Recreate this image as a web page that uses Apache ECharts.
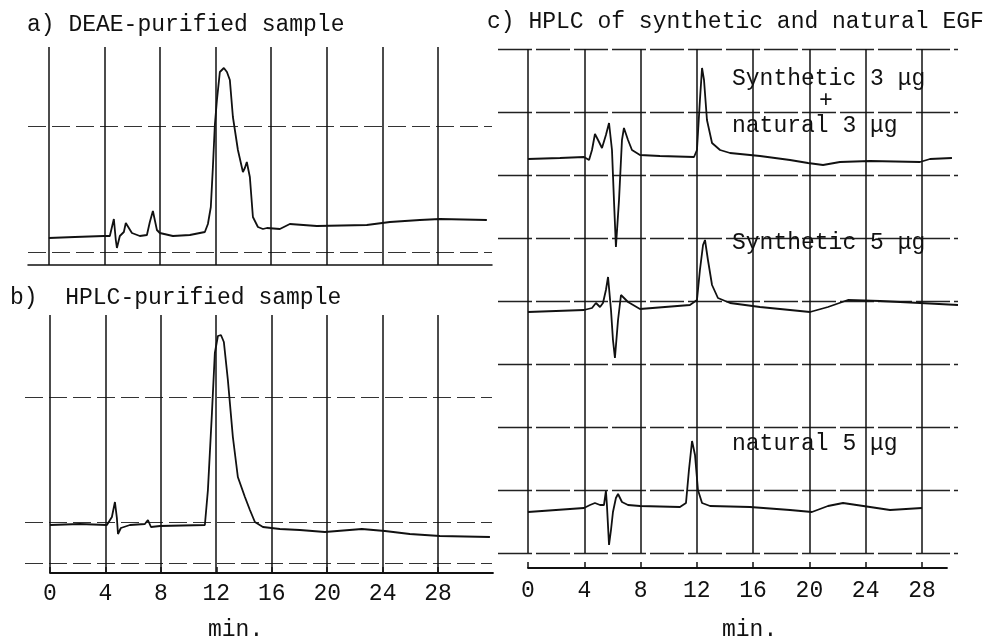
<!DOCTYPE html>
<html>
<head>
<meta charset="utf-8">
<script src="https://cdn.jsdelivr.net/npm/echarts@6/dist/echarts.min.js"></script>
<style>html,body{margin:0;background:#fff}#main{width:995px;height:638px}</style>
</head>
<body>
<div id="main"></div>
<script>
let minuteTicks = [0, 4, 8, 12, 16, 20, 24, 28];

// a) DEAE-purified sample
let deaeTime = [0, 1.87, 3.96, 4.39, 4.68, 4.82, 4.9, 5.11, 5.4, 5.54, 5.98, 6.55, 7.06, 7.27, 7.49, 7.78, 7.99, 8.93, 10.15,
    11.23, 11.45, 11.66, 11.81, 11.95, 12.1, 12.31, 12.6, 12.82, 13.03, 13.25, 13.61, 13.97, 14.11, 14.25, 14.47, 14.69, 15.05,
    15.41, 15.7, 16.63, 17.35, 19.29, 22.89, 24.55, 26.71, 28.15, 31.53];
let deaeSignal = [2.7, 2.8, 2.9, 2.9, 4.6, 2.5, 1.7, 2.9, 3.3, 4.2, 3.2, 2.9, 3.0, 4.3, 5.4, 3.5, 3.2, 2.9, 3.0,
    3.3, 4.1, 5.8, 9.8, 14.0, 16.5, 19.3, 19.7, 19.3, 18.5, 14.8, 11.5, 9.3, 9.7, 10.3, 8.8, 4.8, 3.8,
    3.6, 3.7, 3.6, 4.1, 3.9, 4.0, 4.3, 4.5, 4.6, 4.5];

// b) HPLC-purified sample
let hplcTime = [0, 2.16, 4.11, 4.47, 4.69, 4.83, 4.91, 5.12, 5.77, 6.85, 7.07, 7.29, 7.94, 11.18, 11.4, 11.69, 11.9, 12.12,
    12.34, 12.55, 12.84, 13.2, 13.56, 14.07, 14.43, 14.79, 15.37, 16.59, 18.04, 19.84, 22.51, 24.17, 25.97, 28.14, 31.75];
let hplcSignal = [4.8, 4.9, 4.8, 5.6, 7.1, 5.5, 3.9, 4.5, 4.8, 4.9, 5.3, 4.6, 4.7, 4.8, 8.3, 16.0, 22.0, 23.7,
    23.8, 23.1, 19.3, 13.6, 9.6, 7.6, 6.3, 5.1, 4.6, 4.4, 4.3, 4.1, 4.4, 4.2, 3.9, 3.7, 3.6];

// c) synthetic 3 ug + natural 3 ug
let mixTime = [0, 2.27, 3.98, 4.34, 4.55, 4.76, 4.98, 5.26, 5.54, 5.76, 5.97, 6.11, 6.25, 6.47, 6.68, 6.82, 7.11, 7.39, 7.96,
    9.38, 11.8, 12.01, 12.22, 12.37, 12.51, 12.72, 13.08, 13.65, 14.36, 16.49, 18.62, 19.9, 20.97, 22.17, 24.31, 27.86, 28.57, 30.13];
let mixSignal = [39.4, 39.5, 39.6, 39.3, 40.3, 41.9, 41.3, 40.5, 41.8, 43.0, 40.3, 35.3, 30.6, 35.3, 41.3, 42.5, 41.3, 40.3, 39.8,
    39.7, 39.6, 40.3, 45.3, 48.5, 47.3, 43.3, 41.0, 40.3, 40.0, 39.7, 39.3, 39.0, 38.8, 39.1, 39.2, 39.1, 39.4, 39.5];

// c) synthetic 5 ug
let synTime = [0, 3.98, 4.55, 4.83, 5.12, 5.33, 5.54, 5.69, 5.9, 6.04, 6.18, 6.4, 6.61, 6.75, 7.11, 7.96, 11.51, 12.01, 12.22,
    12.44, 12.58, 12.79, 13.08, 13.5, 14.36, 16.49, 17.91, 20.04, 21.32, 22.74, 25.02, 27.86, 30.56];
let synSignal = [24.1, 24.3, 24.5, 25.0, 24.6, 25.0, 26.3, 27.6, 24.3, 21.3, 19.5, 23.3, 25.8, 26.0, 25.1, 24.4, 24.8, 25.3, 28.3,
    30.8, 31.3, 29.3, 26.8, 25.5, 25.0, 24.6, 24.4, 24.1, 24.6, 25.3, 25.2, 25.0, 24.8];

// c) natural 5 ug
let natTime = [0, 3.98, 4.41, 4.76, 5.12, 5.4, 5.54, 5.61, 5.76, 5.9, 6.04, 6.25, 6.4, 6.68, 7.11, 7.96, 10.8, 11.23, 11.44,
    11.66, 11.87, 12.08, 12.37, 12.94, 15.78, 18.62, 20.18, 21.32, 22.39, 24.31, 25.73, 28.0];
let natSignal = [4.1, 4.5, 4.8, 5.0, 4.8, 4.8, 6.2, 4.8, 0.8, 2.3, 4.1, 5.5, 5.9, 5.1, 4.8, 4.7, 4.6, 5.0, 8.3,
    11.2, 9.8, 6.3, 5.0, 4.7, 4.6, 4.3, 4.1, 4.7, 5.0, 4.6, 4.3, 4.5];

let gridLinesA = [1.3, 13.9];
let gridLinesB = [1.0, 5.1, 17.6];

function pairs(xs, ys) {
    return xs.map((x, i) => [x, ys[i]]);
}

let font = 'Liberation Mono';
let ink = '#111';
let textStyle = { fontFamily: font, fontSize: 23, fontWeight: 'normal', color: ink };

function label(text, left, top) {
    return { text: text, left: left, top: top, padding: 0, textStyle: textStyle };
}

let vLines = { show: true, lineStyle: { color: ink, width: 1.5 } };
let hDash = { show: true, lineStyle: { color: '#333', width: 1.2, type: [18, 6] } };

let traceStyle = { color: ink, width: 1.8 };

function trace(data, index) {
    return {
        type: 'line', xAxisIndex: index, yAxisIndex: index, data: data,
        showSymbol: false, symbol: 'none', lineStyle: traceStyle, silent: true, animation: false
    };
}

let option = {
    backgroundColor: '#fff',
    animation: false,
    title: [
        label('a) DEAE-purified sample', 27, 13),
        label('b)  HPLC-purified sample', 10, 286),
        label('c) HPLC of synthetic and natural EGF', 487, 10),
        label('Synthetic 3 μg', 732, 67),
        label('+', 819, 89),
        label('natural 3 μg', 732, 114),
        label('Synthetic 5 μg', 732, 231),
        label('natural 5 μg', 732, 432),
        label('min.', 208, 618),
        label('min.', 722, 618)
    ],
    grid: [
        { left: 28, top: 47, width: 464, height: 218 },
        { left: 25, top: 315, width: 467, height: 258 },
        { left: 498, top: 49, width: 460, height: 504 },
        { left: 50, top: 565, width: 443, height: 8 },
        { left: 528, top: 560, width: 419, height: 8 }
    ],
    xAxis: [
        { type: 'value', gridIndex: 0, min: -1.5, max: 31.9,
          axisLine: { show: true, onZero: false, lineStyle: { color: ink, width: 1.5 } },
          axisTick: { show: false, customValues: minuteTicks }, axisLabel: { show: false, customValues: minuteTicks },
          splitLine: vLines },
        { type: 'value', gridIndex: 1, min: -1.8, max: 31.9,
          axisLine: { show: false }, axisTick: { show: false, customValues: minuteTicks },
          axisLabel: { show: false, customValues: minuteTicks }, splitLine: vLines },
        { type: 'value', gridIndex: 2, min: -2.13, max: 30.56,
          axisLine: { show: false }, axisTick: { show: false, customValues: minuteTicks },
          axisLabel: { show: false, customValues: minuteTicks }, splitLine: vLines },
        { type: 'value', gridIndex: 3, min: 0, max: 31.96,
          axisLine: { show: true, onZero: false, lineStyle: { color: ink, width: 1.8 } },
          axisTick: { show: true, inside: true, length: 6, customValues: minuteTicks, lineStyle: { color: ink, width: 1.5 } },
          axisLabel: { customValues: minuteTicks, margin: 9, fontFamily: font, fontSize: 23, color: ink },
          splitLine: { show: false } },
        { type: 'value', gridIndex: 4, min: 0, max: 29.78,
          axisLine: { show: true, onZero: false, lineStyle: { color: ink, width: 1.8 } },
          axisTick: { show: true, inside: true, length: 6, customValues: minuteTicks, lineStyle: { color: ink, width: 1.5 } },
          axisLabel: { customValues: minuteTicks, margin: 11, fontFamily: font, fontSize: 23, color: ink },
          splitLine: { show: false } }
    ],
    yAxis: [
        { type: 'value', gridIndex: 0, min: 0, max: 21.8, axisLine: { show: false },
          axisTick: { show: false, customValues: gridLinesA }, axisLabel: { show: false, customValues: gridLinesA }, splitLine: hDash },
        { type: 'value', gridIndex: 1, min: 0, max: 25.8, axisLine: { show: false },
          axisTick: { show: false, customValues: gridLinesB }, axisLabel: { show: false, customValues: gridLinesB }, splitLine: hDash },
        { type: 'value', gridIndex: 2, min: 0, max: 50.4, interval: 6.3, axisLine: { show: false },
          axisTick: { show: false }, axisLabel: { show: false },
          splitLine: { show: true, lineStyle: { color: '#222', width: 1.3, type: [34, 4] } } },
        { type: 'value', gridIndex: 3, show: false },
        { type: 'value', gridIndex: 4, show: false }
    ],
    series: [
        trace(pairs(deaeTime, deaeSignal), 0),
        trace(pairs(hplcTime, hplcSignal), 1),
        trace(pairs(mixTime, mixSignal), 2),
        trace(pairs(synTime, synSignal), 2),
        trace(pairs(natTime, natSignal), 2)
    ]
};

let chart = echarts.init(document.getElementById('main'));
chart.setOption(option);
</script>
</body>
</html>
